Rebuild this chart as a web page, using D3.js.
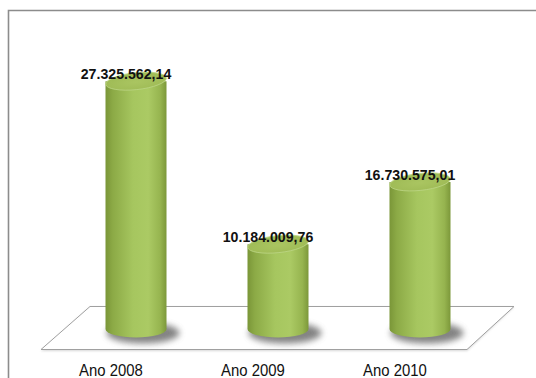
<!DOCTYPE html>
<html>
<head>
<meta charset="utf-8">
<script src="https://cdn.jsdelivr.net/npm/d3@7/dist/d3.min.js"></script>
<style>
  html, body { margin: 0; padding: 0; background: #fff; }
  svg { display: block; }
</style>
</head>
<body>
<svg id="chart" width="536" height="378"></svg>
<script>
// Annual totals
const categories = ["Ano 2008", "Ano 2009", "Ano 2010"];
const values = [27325562.14, 10184009.76, 16730575.01];
const valueLabels = ["27.325.562,14", "10.184.009,76", "16.730.575,01"];

const svg = d3.select("#chart");
const W = 536, H = 378;

// Frame (open on right and bottom)
svg.append("path")
  .attr("d", `M8.5,${H} L8.5,10.5 L${W},10.5`)
  .attr("fill", "none")
  .attr("stroke", "#8c8c8c")
  .attr("stroke-width", 1.6);

const x = d3.scalePoint().domain(categories).range([136, 420]);
const y = d3.scaleLinear().domain([0, 30000000]).range([341, 55.7]);

const r = 30.5, ry = 8.5, floorY = 329;

const defs = svg.append("defs");
const bodyGrad = defs.append("linearGradient").attr("id", "body").attr("x1", 0).attr("x2", 1).attr("y1", 0).attr("y2", 0);
[[0, "#7a9638"], [0.12, "#8caa46"], [0.45, "#a6c65f"], [0.7, "#abca64"], [0.9, "#96b44f"], [1, "#7c983a"]]
  .forEach(([o, c]) => bodyGrad.append("stop").attr("offset", o).attr("stop-color", c));
const capGrad = defs.append("radialGradient").attr("id", "cap").attr("cx", 0.5).attr("cy", 0.55).attr("r", 0.6);
[[0, "#aac561"], [0.8, "#a0bc57"], [1, "#bcd47e"]]
  .forEach(([o, c]) => capGrad.append("stop").attr("offset", o).attr("stop-color", c));
const blur = defs.append("filter").attr("id", "blur").attr("x", -0.5).attr("y", -0.5).attr("width", 2).attr("height", 2);
blur.append("feGaussianBlur").attr("stdDeviation", 3);
const blur1 = defs.append("filter").attr("id", "blur1").attr("x", -0.1).attr("y", -1).attr("width", 1.2).attr("height", 3);
blur1.append("feGaussianBlur").attr("stdDeviation", 1);

// Floor
svg.append("path")
  .attr("d", "M41,351 L467,351 L514,307 L90,307 Z")
  .attr("fill", "#c8c8c8")
  .attr("filter", "url(#blur1)")
  .attr("opacity", 0.7);
svg.append("path")
  .attr("d", "M41,349.5 L467,349.5 L514,306.5 L90,306.5 Z")
  .attr("fill", "#fff")
  .attr("stroke", "#a0a0a0")
  .attr("stroke-width", 1);

const g = svg.append("g");
const bars = g.selectAll("g.bar").data(categories.map((c, i) => ({ c, v: values[i], lab: valueLabels[i] })))
  .enter().append("g").attr("class", "bar");

// Shadows
bars.append("ellipse")
  .attr("cx", d => x(d.c) + 7)
  .attr("cy", floorY + 4)
  .attr("rx", r + 6)
  .attr("ry", ry + 2)
  .attr("fill", "#5a5a5a")
  .attr("opacity", 0.75)
  .attr("filter", "url(#blur)");

// Cylinder bodies
bars.append("path")
  .attr("d", d => {
    const cx = x(d.c), yt = y(d.v);
    return `M${cx - r},${yt} L${cx - r},${floorY} A${r},${ry} 0 0 0 ${cx + r},${floorY} L${cx + r},${yt} Z`;
  })
  .attr("fill", "url(#body)");

// Cylinder tops
bars.append("ellipse")
  .attr("cx", d => x(d.c))
  .attr("cy", d => y(d.v))
  .attr("rx", r)
  .attr("ry", ry)
  .attr("transform", d => `rotate(-6,${x(d.c)},${y(d.v)})`)
  .attr("fill", "url(#cap)")
  .attr("stroke", "#bcd585")
  .attr("stroke-width", 0.8);

// Value labels (narrowed bold face)
bars.append("text")
  .attr("transform", d => `translate(${x(d.c) - 10},${y(d.v) - 2}) scale(0.92,1)`)
  .attr("text-anchor", "middle")
  .attr("font-family", "'Liberation Sans', Arial, sans-serif")
  .attr("font-weight", "bold")
  .attr("font-size", 15.4)
  .attr("fill", "#111")
  .text(d => d.lab);

// Category labels
svg.selectAll("text.cat").data(categories).enter().append("text")
  .attr("class", "cat")
  .attr("transform", d => `translate(${x(d) - 25},376) scale(0.95,1)`)
  .attr("text-anchor", "middle")
  .attr("font-family", "'Liberation Sans', Arial, sans-serif")
  .attr("font-size", 15.7)
  .attr("fill", "#111")
  .text(d => d);
</script>
</body>
</html>
